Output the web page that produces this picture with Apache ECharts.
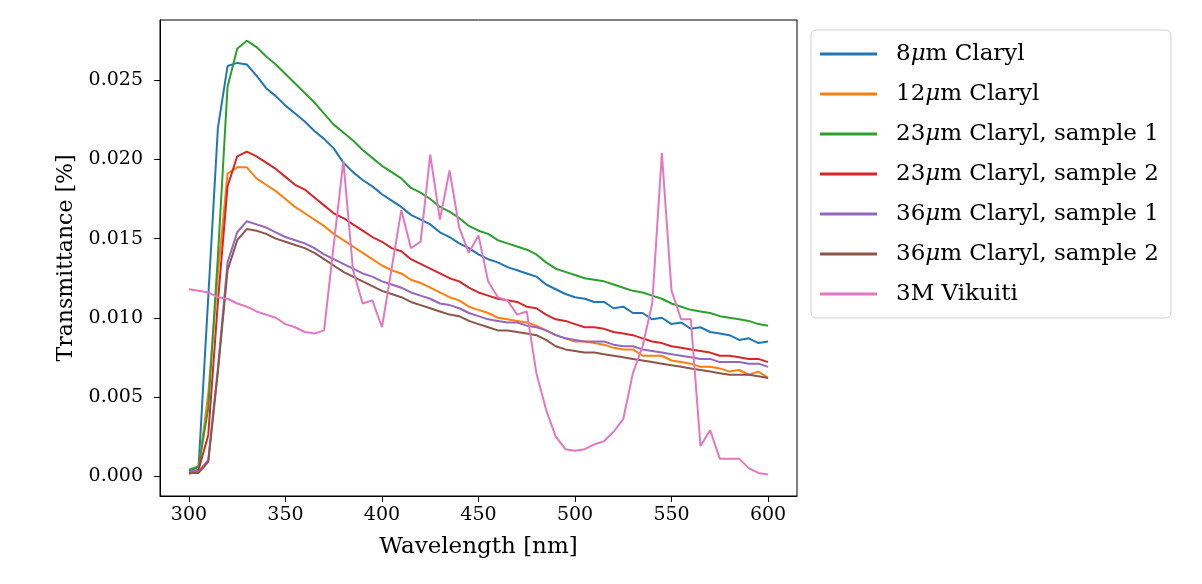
<!DOCTYPE html>
<html>
<head>
<meta charset="utf-8">
<title>Transmittance</title>
<script src="https://cdn.jsdelivr.net/npm/echarts@6/dist/echarts.min.js"></script>
<style>
html,body{margin:0;padding:0;background:#fff;}
#chart{width:1202px;height:584px;}
</style>
</head>
<body>
<div id="chart"></div>
<script>
// wavelength in nm, one point every 5 nm
var wavelength=[300,305,310,315,320,325,330,335,340,345,350,355,360,365,370,375,380,385,390,395,
	400,405,410,415,420,425,430,435,440,445,450,455,460,465,470,475,480,485,490,495,
	500,505,510,515,520,525,530,535,540,545,550,555,560,565,570,575,580,585,590,595,600];

var claryl8=[0.0003,0.0006,0.0113,0.0220,0.0259,0.0261,0.0260,0.0253,0.0245,0.0240,0.0234,0.0229,0.0224,0.0218,0.0213,0.0207,0.0198,0.0192,0.0187,0.0183,
	0.0178,0.0174,0.0170,0.0165,0.0162,0.0159,0.0154,0.0151,0.0147,0.0144,0.0140,0.0137,0.0135,0.0132,0.0130,0.0128,0.0126,0.0121,0.0118,0.0115,
	0.0113,0.0112,0.0110,0.0110,0.0106,0.0107,0.0103,0.0103,0.0099,0.0100,0.0096,0.0097,0.0093,0.0094,0.0091,0.0090,0.0089,0.0086,0.0087,0.0084,0.0085];

var claryl12=[0.0001,0.0004,0.0052,0.0128,0.0191,0.0195,0.0195,0.0188,0.0184,0.0180,0.0175,0.0170,0.0166,0.0162,0.0158,0.0153,0.0149,0.0145,0.0141,0.0137,
	0.0133,0.0130,0.0128,0.0124,0.0122,0.0119,0.0116,0.0113,0.0111,0.0107,0.0105,0.0103,0.0100,0.0099,0.0098,0.0097,0.0095,0.0092,0.0089,0.0087,
	0.0085,0.0085,0.0084,0.0083,0.0081,0.0080,0.0080,0.0076,0.0076,0.0076,0.0073,0.0072,0.0071,0.0069,0.0069,0.0068,0.0066,0.0067,0.0064,0.0066,0.0062];

var claryl23a=[0.0004,0.0006,0.0043,0.0139,0.0246,0.0270,0.0275,0.0271,0.0265,0.0260,0.0254,0.0248,0.0242,0.0236,0.0229,0.0222,0.0217,0.0212,0.0206,0.0201,
	0.0196,0.0192,0.0188,0.0182,0.0179,0.0175,0.0170,0.0167,0.0163,0.0158,0.0155,0.0153,0.0149,0.0147,0.0145,0.0143,0.0140,0.0135,0.0131,0.0129,
	0.0127,0.0125,0.0124,0.0123,0.0121,0.0119,0.0117,0.0116,0.0114,0.0112,0.0109,0.0107,0.0105,0.0104,0.0103,0.0101,0.0100,0.0099,0.0098,0.0096,0.0095];

var claryl23b=[0.0002,0.0004,0.0026,0.0110,0.0183,0.0202,0.0205,0.0202,0.0198,0.0194,0.0189,0.0184,0.0181,0.0176,0.0171,0.0166,0.0163,0.0159,0.0155,0.0151,
	0.0148,0.0144,0.0142,0.0137,0.0134,0.0131,0.0128,0.0125,0.0123,0.0119,0.0116,0.0114,0.0112,0.0111,0.0110,0.0107,0.0106,0.0102,0.0099,0.0098,
	0.0096,0.0094,0.0094,0.0093,0.0091,0.0090,0.0089,0.0087,0.0085,0.0084,0.0082,0.0081,0.0080,0.0079,0.0078,0.0076,0.0076,0.0075,0.0074,0.0074,0.0072];

var claryl36a=[0.0003,0.0003,0.0010,0.0068,0.0135,0.0154,0.0161,0.0159,0.0157,0.0154,0.0151,0.0149,0.0147,0.0144,0.0140,0.0137,0.0134,0.0131,0.0128,0.0126,
	0.0123,0.0121,0.0119,0.0116,0.0114,0.0112,0.0109,0.0108,0.0106,0.0103,0.0101,0.0099,0.0098,0.0097,0.0097,0.0095,0.0094,0.0092,0.0089,0.0087,
	0.0086,0.0085,0.0085,0.0085,0.0083,0.0082,0.0082,0.0080,0.0079,0.0078,0.0077,0.0076,0.0075,0.0074,0.0074,0.0072,0.0072,0.0072,0.0071,0.0071,0.0069];

var claryl36b=[0.0002,0.0002,0.0009,0.0066,0.0130,0.0149,0.0156,0.0155,0.0153,0.0150,0.0148,0.0146,0.0144,0.0141,0.0137,0.0133,0.0129,0.0126,0.0123,0.0120,
	0.0117,0.0115,0.0113,0.0110,0.0108,0.0106,0.0104,0.0102,0.0101,0.0098,0.0096,0.0094,0.0092,0.0092,0.0091,0.0090,0.0089,0.0086,0.0082,0.0080,
	0.0079,0.0078,0.0078,0.0077,0.0076,0.0075,0.0074,0.0073,0.0072,0.0071,0.0070,0.0069,0.0068,0.0067,0.0066,0.0065,0.0064,0.0064,0.0064,0.0063,0.0062];

var vikuiti=[0.0118,0.0117,0.0116,0.0113,0.0112,0.0109,0.0107,0.0104,0.0102,0.0100,0.0096,0.0094,0.0091,0.0090,0.0092,0.0146,0.0199,0.0130,0.0109,0.0111,
	0.0094,0.0131,0.0168,0.0144,0.0148,0.0203,0.0162,0.0193,0.0157,0.0141,0.0152,0.0123,0.0113,0.0111,0.0102,0.0104,0.0065,0.0042,0.0025,0.0017,
	0.0016,0.0017,0.0020,0.0022,0.0028,0.0036,0.0065,0.0082,0.0109,0.0204,0.0117,0.0099,0.0099,0.0019,0.0029,0.0011,0.0011,0.0011,0.0005,0.0002,0.0001];

var seriesNames=["8μm Claryl","12μm Claryl","23μm Claryl, sample 1","23μm Claryl, sample 2","36μm Claryl, sample 1","36μm Claryl, sample 2","3M Vikuiti"];
var seriesValues=[claryl8,claryl12,claryl23a,claryl23b,claryl36a,claryl36b,vikuiti];
var xTicks=[300,350,400,450,500,550,600];
var yTicks=[0.000,0.005,0.010,0.015,0.020,0.025];

var colors=['#1f77b4','#ff7f0e','#2ca02c','#d62728','#9467bd','#8c564b','#e377c2'];
var serif='"DejaVu Serif", "Liberation Serif", serif';

function pairs(vals){
	var out=[];
	for(var i=0;i<wavelength.length;i++){
		out.push([wavelength[i],vals[i]]);
	}
	return out;
}

var series=[];
for(var k=0;k<seriesNames.length;k++){
	series.push({
		name:seriesNames[k],
		type:'line',
		data:pairs(seriesValues[k]),
		showSymbol:false,
		symbol:'none',
		lineStyle:{width:2,color:colors[k]},
		itemStyle:{color:colors[k]},
		animation:false
	});
}

var myChart=echarts.init(document.getElementById('chart'),null,{renderer:'canvas'});
var option={
	backgroundColor:'#fff',
	color:colors,
	grid:{left:160,top:20,width:637,height:476,show:true,borderColor:'#000',borderWidth:1,backgroundColor:'transparent'},
	legend:{
		orient:'vertical',
		left:811,top:30,
		padding:[11,12,11,9],
		itemWidth:57,itemHeight:3,itemGap:14,
		icon:'rect',
		backgroundColor:'#fff',
		borderColor:'#d0d0d0',borderWidth:1,borderRadius:5,
		textStyle:{fontFamily:serif,fontSize:23,color:'#000',lineHeight:26,padding:[0,0,0,14],
			rich:{i:{fontFamily:serif,fontSize:23,fontStyle:'italic',color:'#000',lineHeight:26}}},
		formatter:function(name){
			return name.replace('μ','{i|μ}');
		},
		data:seriesNames
	},
	xAxis:{
		type:'value',min:285,max:615,
		name:'Wavelength [nm]',nameLocation:'middle',nameGap:40,
		nameTextStyle:{fontFamily:serif,fontSize:23,color:'#000'},
		axisLine:{show:true,onZero:false,lineStyle:{color:'#000',width:1}},
		axisTick:{show:true,inside:false,length:6,lineStyle:{color:'#000'},customValues:xTicks},
		axisLabel:{fontFamily:serif,fontSize:19,color:'#000',margin:10,customValues:xTicks},
		splitLine:{show:false}
	},
	yAxis:{
		type:'value',min:-0.00126,max:0.02881,
		name:'Transmittance [%]',nameLocation:'middle',nameGap:83,
		nameTextStyle:{fontFamily:serif,fontSize:22,color:'#000'},
		axisLine:{show:true,onZero:false,lineStyle:{color:'#000',width:1}},
		axisTick:{show:true,inside:false,length:6,lineStyle:{color:'#000'},customValues:yTicks},
		axisLabel:{fontFamily:serif,fontSize:19,color:'#000',margin:17,customValues:yTicks,
			formatter:function(v){return v.toFixed(3);}},
		splitLine:{show:false}
	},
	series:series
};
myChart.setOption(option);
</script>
</body>
</html>
